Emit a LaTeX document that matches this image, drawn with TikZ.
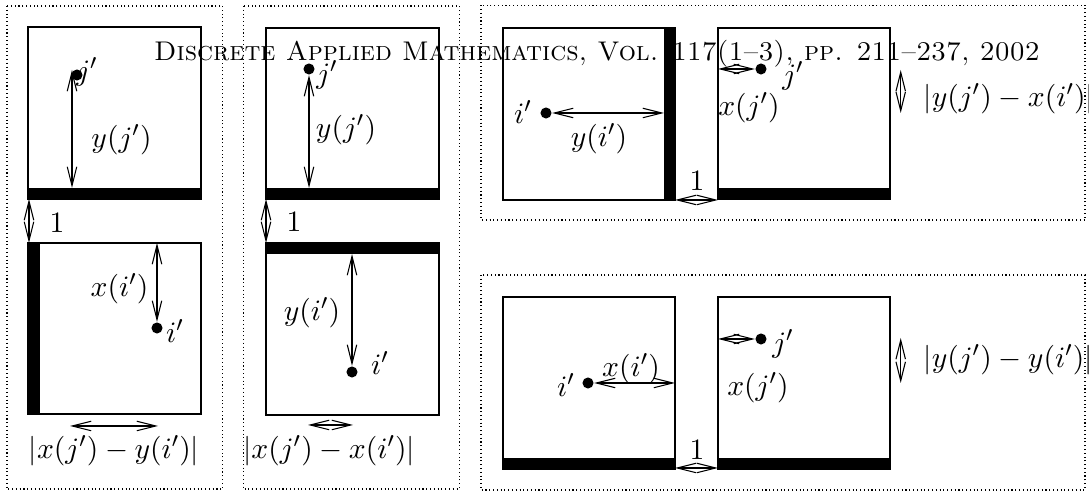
\documentclass[tikz,border=0pt]{standalone}
\usetikzlibrary{arrows.meta}
\begin{document}
\begin{tikzpicture}[x=0.37pt,y=-0.37pt,
  frame/.style={densely dotted, line width=0.4pt},
  sq/.style={line width=0.8pt},
  bar/.style={fill=black},
  dot/.style={circle, fill=black, inner sep=0pt, minimum size=4.1pt},
  dim/.style={{Straight Barb[length=7pt,width=3.5pt]}-{Straight Barb[length=7pt,width=3.5pt]}, line width=0.4pt},
  lbl/.style={inner sep=0pt, font=\fontsize{10.8pt}{13pt}\selectfont},
  hdr/.style={inner sep=0pt, anchor=base}]
\useasboundingbox (0,0) rectangle (1089,494);
% header
\node[hdr] (hdr) at (597,61) {\textsc{Discrete Applied Mathematics, Vol. 117(1--3), pp. 211--237, 2002}};
% ---------- panel 1
\draw[frame] (7,6) rectangle (222.7,489);
\draw[sq] (28,27) rectangle (201,199);
\fill[bar] (28,188) rectangle (201,199);
\node[dot] (j1) at (77,75) {};
\node[lbl] (j1l) at (87,72) {$j'$};
\coordinate (a1t) at (72,70);
\coordinate (a1b) at (72,188);
\draw[dim] (a1t) -- (a1b);
\node[lbl] (yj1) at (121.5,140) {$y(j')$};
\coordinate (g1t) at (29,199);
\coordinate (g1b) at (29,243);
\draw[dim] (g1t) -- (g1b);
\node[lbl] (one1) at (57,223) {$1$};
\draw[sq] (28,243) rectangle (201,414);
\fill[bar] (28,243) rectangle (40,414);
\node[dot] (i1) at (157,328) {};
\node[lbl] (i1l) at (175,331) {$i'$};
\coordinate (b1t) at (157,243);
\draw[dim] (b1t) -- (i1);
\node[lbl] (xi1) at (119.5,289) {$x(i')$};
\coordinate (h1l) at (70,426);
\coordinate (h1r) at (158,426);
\draw[dim] (h1l) -- (h1r);
\node[lbl] (d1) at (114,451) {$|x(j')-y(i')|$};
% ---------- panel 2
\draw[frame] (243.3,6) rectangle (459.3,489);
\draw[sq] (266,28) rectangle (439,199);
\fill[bar] (266,188) rectangle (439,199);
\node[dot] (j2) at (309,69) {};
\node[lbl] (j2l) at (327,75) {$j'$};
\coordinate (a2b) at (309,188);
\draw[dim] (j2) -- (a2b);
\node[lbl] (yj2) at (346,130) {$y(j')$};
\coordinate (g2t) at (266,199);
\coordinate (g2b) at (266,243);
\draw[dim] (g2t) -- (g2b);
\node[lbl] (one2) at (294,222) {$1$};
\draw[sq] (266,243) rectangle (439,415);
\fill[bar] (266,243) rectangle (439,254);
\node[dot] (i2) at (352,372) {};
\node[lbl] (i2l) at (380,363) {$i'$};
\coordinate (b2t) at (352,254);
\draw[dim] (b2t) -- (i2);
\node[lbl] (yi2) at (312,313) {$y(i')$};
\coordinate (h2l) at (308,425);
\coordinate (h2r) at (353,425);
\draw[dim] (h2l) -- (h2r);
\node[lbl] (d2) at (329,451) {$|x(j')-x(i')|$};
% ---------- panel 3
\draw[frame] (481,5.3) rectangle (1085,220);
\draw[sq] (503,28) rectangle (675,200);
\fill[bar] (664,28) rectangle (675,200);
\node[dot] (i3) at (546,113) {};
\node[lbl] (i3l) at (523,112) {$i'$};
\coordinate (c3r) at (664,113);
\draw[dim] (i3) -- (c3r);
\node[lbl] (yi3) at (599,139) {$y(i')$};
\draw[sq] (718,28) rectangle (890,199);
\fill[bar] (718,188) rectangle (890,199);
\node[dot] (j3) at (761,69) {};
\node[lbl] (j3l) at (793,76) {$j'$};
\coordinate (c3l) at (718,69);
\draw[dim] (c3l) -- (j3);
\node[lbl] (xj3) at (749,108) {$x(j')$};
\coordinate (g3l) at (675,200);
\coordinate (g3r) at (718,200);
\draw[dim] (g3l) -- (g3r);
\node[lbl] (one3) at (697,181) {$1$};
\coordinate (v3t) at (900.7,70);
\coordinate (v3b) at (900.7,113);
\draw[dim] (v3t) -- (v3b);
\node[lbl, anchor=west] (d3) at (923,99) {$|y(j')-x(i')|$};
% ---------- panel 4
\draw[frame] (481,275) rectangle (1085,490);
\draw[sq] (503,297) rectangle (675,469);
\fill[bar] (503,458) rectangle (675,469);
\node[dot] (i4) at (588,383) {};
\node[lbl] (i4l) at (566,385) {$i'$};
\coordinate (c4r) at (675,383);
\draw[dim] (i4) -- (c4r);
\node[lbl] (xi4) at (631,369) {$x(i')$};
\draw[sq] (718,297) rectangle (890,469);
\fill[bar] (718,458) rectangle (890,469);
\node[dot] (j4) at (761,339) {};
\node[lbl] (j4l) at (783,344) {$j'$};
\coordinate (c4l) at (718,339);
\draw[dim] (c4l) -- (j4);
\node[lbl] (xj4) at (758,388) {$x(j')$};
\coordinate (g4l) at (675,468);
\coordinate (g4r) at (718,468);
\draw[dim] (g4l) -- (g4r);
\node[lbl] (one4) at (697,450) {$1$};
\coordinate (v4t) at (900.7,338);
\coordinate (v4b) at (900.7,383);
\draw[dim] (v4t) -- (v4b);
\node[lbl, anchor=west] (d4) at (923,360) {$|y(j')-y(i')|$};
\end{tikzpicture}
\end{document}
